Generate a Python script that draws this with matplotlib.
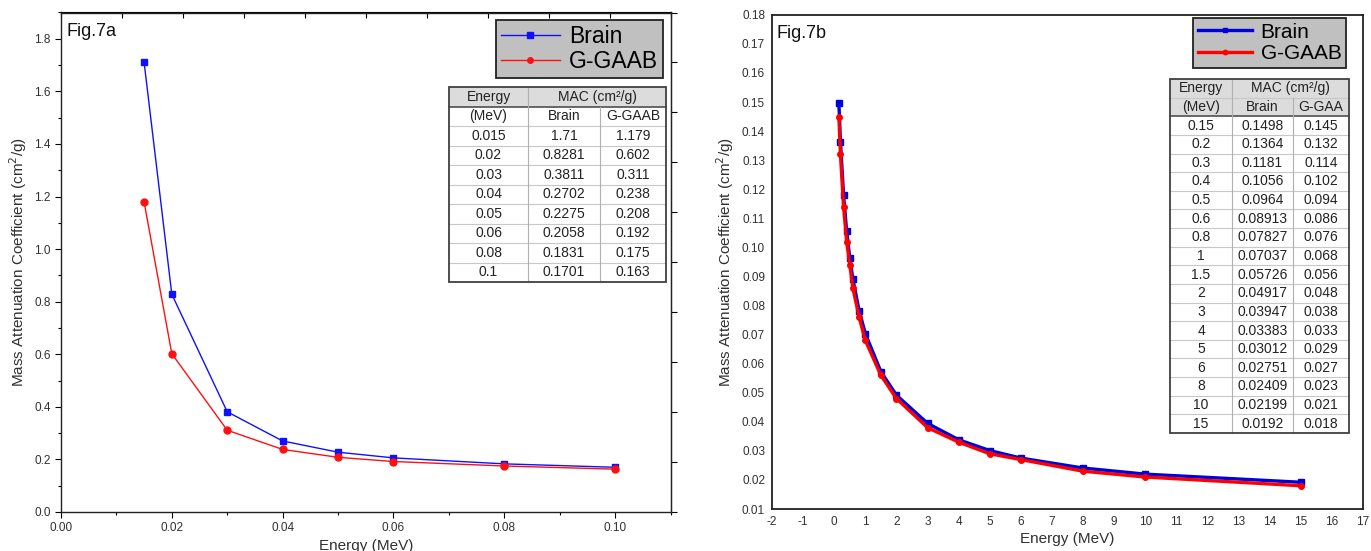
import numpy as np
import matplotlib
matplotlib.use("Agg")
import matplotlib.pyplot as plt
from matplotlib.patches import Rectangle

plt.rcParams['font.family'] = ['Liberation Sans', 'DejaVu Sans']
plt.rcParams['axes.unicode_minus'] = False

# ---------------- data ----------------
energy_a = [0.015, 0.02, 0.03, 0.04, 0.05, 0.06, 0.08, 0.1]
brain_a = [1.71, 0.8281, 0.3811, 0.2702, 0.2275, 0.2058, 0.1831, 0.1701]
ggaab_a = [1.179, 0.602, 0.311, 0.238, 0.208, 0.192, 0.175, 0.163]
energy_a_lbl = ["0.015", "0.02", "0.03", "0.04", "0.05", "0.06", "0.08", "0.1"]
brain_a_lbl = ["1.71", "0.8281", "0.3811", "0.2702", "0.2275", "0.2058", "0.1831", "0.1701"]
ggaab_a_lbl = ["1.179", "0.602", "0.311", "0.238", "0.208", "0.192", "0.175", "0.163"]

energy_b = [0.15, 0.2, 0.3, 0.4, 0.5, 0.6, 0.8, 1, 1.5, 2, 3, 4, 5, 6, 8, 10, 15]
brain_b = [0.1498, 0.1364, 0.1181, 0.1056, 0.0964, 0.08913, 0.07827, 0.07037,
           0.05726, 0.04917, 0.03947, 0.03383, 0.03012, 0.02751, 0.02409, 0.02199, 0.0192]
ggaab_b = [0.145, 0.132, 0.114, 0.102, 0.094, 0.086, 0.076, 0.068,
           0.056, 0.048, 0.038, 0.033, 0.029, 0.027, 0.023, 0.021, 0.018]
energy_b_lbl = ["0.15", "0.2", "0.3", "0.4", "0.5", "0.6", "0.8", "1", "1.5", "2", "3",
                "4", "5", "6", "8", "10", "15"]
brain_b_lbl = ["0.1498", "0.1364", "0.1181", "0.1056", "0.0964", "0.08913", "0.07827",
               "0.07037", "0.05726", "0.04917", "0.03947", "0.03383", "0.03012",
               "0.02751", "0.02409", "0.02199", "0.0192"]
ggaab_b_lbl = ["0.145", "0.132", "0.114", "0.102", "0.094", "0.086", "0.076", "0.068",
               "0.056", "0.048", "0.038", "0.033", "0.029", "0.027", "0.023", "0.021", "0.018"]

W, H = 1371, 551
fig = plt.figure(figsize=(W / 100, H / 100), dpi=100)


def fx(px):
    return px / W


def fy(py):
    return 1 - py / H


BLUE_A = '#1010ff'
RED_A = '#ff1010'
BLUE_B = '#0000dd'
RED_B = '#ff0000'
TXT = '#303030'
YLABEL = 'Mass Attenuation Coefficient (cm$^2$/g)'

# ---------------- panel a ----------------
axa = fig.add_axes([fx(61), fy(512), fx(670.5 - 61), (512 - 12.5) / H])
axa.plot(energy_a, brain_a, color=BLUE_A, lw=1.0, marker='s', ms=5, label='Brain')
axa.plot(energy_a, ggaab_a, color=RED_A, lw=1.0, marker='o', ms=5, label='G-GAAB')
axa.set_xlim(0, 0.11)
axa.set_ylim(0, 1.9)
axa.set_xticks(np.arange(0, 0.101, 0.02))
axa.set_xticks(np.arange(0, 0.111, 0.01), minor=True)
axa.set_yticks(np.arange(0, 1.81, 0.2))
axa.set_yticks(np.arange(0, 1.91, 0.1), minor=True)
axa.xaxis.set_major_formatter(matplotlib.ticker.FormatStrFormatter('%.2f'))
axa.yaxis.set_major_formatter(matplotlib.ticker.FormatStrFormatter('%.1f'))
axa.tick_params(axis='both', which='major', direction='out', length=4, labelsize=8.5,
                labelcolor=TXT, width=0.8)
axa.tick_params(axis='both', which='minor', direction='out', length=2.5, width=0.8)
axa.set_xlabel('Energy (MeV)', fontsize=11, color=TXT, labelpad=3)
axa.set_ylabel(YLABEL, fontsize=11, color=TXT, labelpad=4)
for s in axa.spines.values():
    s.set_linewidth(1.0)
    s.set_color('#222222')
topa = axa.secondary_xaxis('top')
topa.set_xticks(np.linspace(0, 0.11, 11))
topa.tick_params(direction='in', length=4, labeltop=False)
righta = axa.secondary_yaxis('right')
righta.set_yticks(np.linspace(0, 1.9, 11))
righta.tick_params(direction='out', length=4, labelright=False)
fig.text(fx(67), fy(31), 'Fig.7a', fontsize=13, va='center', ha='left', color='#111111')

lega = axa.legend(loc='upper right', bbox_to_anchor=(fx(663), fy(20)),
                  bbox_transform=fig.transFigure, borderaxespad=0, fontsize=16.5,
                  fancybox=False, facecolor='#c0c0c0', edgecolor='#222222', framealpha=1,
                  handlelength=2.6, numpoints=1, markerscale=0.8,
                  borderpad=0.2, labelspacing=0.12, handletextpad=0.4)
lega.get_frame().set_linewidth(1.3)

# ---------------- panel b ----------------
axb = fig.add_axes([fx(772), fy(509), fx(1363 - 772), (509 - 14.8) / H])
axb.plot(energy_b, brain_b, color=BLUE_B, lw=2.4, marker='s', ms=4, label='Brain')
axb.plot(energy_b, ggaab_b, color=RED_B, lw=2.4, marker='o', ms=4, label='G-GAAB')
axb.set_xlim(-2, 17)
axb.set_ylim(0.01, 0.18)
axb.set_xticks(np.arange(-2, 17.1, 1))
axb.set_yticks(np.arange(0.01, 0.1801, 0.01))
axb.yaxis.set_major_formatter(matplotlib.ticker.FormatStrFormatter('%.2f'))
axb.tick_params(axis='both', which='major', direction='in', length=0, labelsize=8.5,
                labelcolor=TXT, pad=5)
axb.set_xlabel('Energy (MeV)', fontsize=11, color=TXT, labelpad=3)
axb.set_ylabel(YLABEL, fontsize=11, color=TXT, labelpad=4)
for s in axb.spines.values():
    s.set_linewidth(1.3)
    s.set_color('#222222')
fig.text(fx(776), fy(33), 'Fig.7b', fontsize=13, va='center', ha='left', color='#111111')

legb = axb.legend(loc='upper right', bbox_to_anchor=(fx(1346), fy(18)),
                  bbox_transform=fig.transFigure, borderaxespad=0, fontsize=15,
                  fancybox=False, facecolor='#c0c0c0', edgecolor='#222222', framealpha=1,
                  handlelength=2.6, numpoints=1, markerscale=0.8,
                  borderpad=0.22, labelspacing=0.12, handletextpad=0.4)
legb.get_frame().set_linewidth(1.3)


# ---------------- tables ----------------
def draw_table(cols, top, bottom, body, second_gray, fs):
    nrows = len(body) + 2
    rh = (bottom - top) / nrows
    x0, x3 = cols[0], cols[-1]
    fig.add_artist(Rectangle((fx(x0), fy(bottom)), fx(x3 - x0), (bottom - top) / H,
                             transform=fig.transFigure, facecolor='white',
                             edgecolor='none', zorder=10))
    ngray = 2 if second_gray else 1
    fig.add_artist(Rectangle((fx(x0), fy(top + ngray * rh)), fx(x3 - x0), ngray * rh / H,
                             transform=fig.transFigure, facecolor='#dcdcdc',
                             edgecolor='none', zorder=10))
    for r in range(1, nrows):
        y = top + r * rh
        dark = (r == ngray)
        fig.add_artist(plt.Line2D([fx(x0), fx(x3)], [fy(y), fy(y)],
                                  transform=fig.transFigure,
                                  color='#505050' if dark else '#c8c8c8',
                                  lw=1.2 if dark else 0.8, zorder=11))
    fig.add_artist(plt.Line2D([fx(cols[1])] * 2, [fy(top), fy(bottom)],
                              transform=fig.transFigure, color='#b0b0b0', lw=0.8, zorder=11))
    fig.add_artist(plt.Line2D([fx(cols[2])] * 2, [fy(top + rh), fy(bottom)],
                              transform=fig.transFigure, color='#b0b0b0', lw=0.8, zorder=11))
    fig.add_artist(Rectangle((fx(x0), fy(bottom)), fx(x3 - x0), (bottom - top) / H,
                             transform=fig.transFigure, facecolor='none',
                             edgecolor='#404040', lw=1.3, zorder=12))

    def put(cx, r, s):
        fig.text(fx(cx), fy(top + (r + 0.5) * rh), s, ha='center', va='center',
                 fontsize=fs, color='#222222', zorder=13)
    c1 = (cols[0] + cols[1]) / 2
    c2 = (cols[1] + cols[2]) / 2
    c3 = (cols[2] + cols[3]) / 2
    put(c1, 0, 'Energy')
    put((cols[1] + cols[3]) / 2, 0, 'MAC (cm²/g)')
    put(c1, 1, '(MeV)')
    put(c2, 1, 'Brain')
    put(c3, 1, body[0][3])
    for i, row in enumerate(body):
        put(c1, i + 2, row[0])
        put(c2, i + 2, row[1])
        put(c3, i + 2, row[2])


body_a = [(e, b, g, 'G-GAAB') for e, b, g in zip(energy_a_lbl, brain_a_lbl, ggaab_a_lbl)]
body_b = [(e, b, g, 'G-GAA') for e, b, g in zip(energy_b_lbl, brain_b_lbl, ggaab_b_lbl)]
draw_table([449, 528, 600, 666], 87, 282, body_a, False, 10)
draw_table([1170, 1232, 1293, 1349], 79, 433, body_b, True, 10)

fig.savefig('out.png', dpi=100)
